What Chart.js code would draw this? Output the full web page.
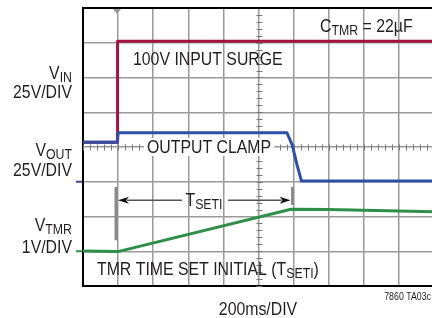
<!DOCTYPE html>
<html>
<head>
<meta charset="utf-8">
<script src="https://cdn.jsdelivr.net/npm/chart.js@4/dist/chart.umd.min.js"></script>
<style>
  html, body { margin: 0; padding: 0; background: #fff; overflow: hidden; }
  #wrap { width: 440px; height: 318px; }
</style>
</head>
<body>
<div id="wrap"><canvas id="grafico" width="440" height="318"></canvas></div>
<script>
// tempo em ms (200ms/DIV), nivel em divisoes da tela (0 = baixo, 8 = topo)
const vinTempo = [0, 194, 197, 2000];
const vinNivel = [4.14, 4.14, 7.04, 7.04];

const voutTempo = [0, 196, 200, 1162, 1192, 1220, 1245, 2000];
const voutNivel = [4.14, 4.14, 4.41, 4.41, 4.06, 3.48, 3.02, 3.02];

const tmrTempo = [0, 100, 199, 1185, 1400, 1800, 2000];
const tmrNivel = [1.01, 1.0, 0.99, 2.21, 2.2, 2.16, 2.14];

// marcas auxiliares
const gatilho = 194;
const tsetiInicio = 188;
const tsetiFim = 1194;
const refVout = 3;
const refTmr = 1;

const FONTE = '"Liberation Sans", Arial, sans-serif';
const ESTREITO = 0.88; // fonte condensada
const COR_TEXTO = "#231f20";

function pontos(xs, ys) {
  return xs.map((x, i) => ({ x: x, y: ys[i] }));
}

// texto com subscrito: partes = [[texto, ehSub], ...]
function textoSub(ctx, partes, x, y, alinhar, tam, tamSub) {
  let largura = 0;
  partes.forEach(p => {
    ctx.font = (p[1] ? tamSub : tam) + "px " + FONTE;
    largura += ctx.measureText(p[0]).width * ESTREITO;
  });
  let cx = x;
  if (alinhar === "right") cx = x - largura;
  if (alinhar === "center") cx = x - largura / 2;
  ctx.textAlign = "left";
  ctx.textBaseline = "alphabetic";
  partes.forEach(p => {
    ctx.font = (p[1] ? tamSub : tam) + "px " + FONTE;
    ctx.save();
    ctx.translate(cx, p[1] ? y + 3 : y);
    ctx.scale(ESTREITO, 1);
    ctx.fillText(p[0], 0, 0);
    ctx.restore();
    cx += ctx.measureText(p[0]).width * ESTREITO;
  });
  return largura;
}

function seta(ctx, x0, x1, y) {
  // linha de x0 ate a ponta em x1
  const dir = x1 > x0 ? 1 : -1;
  ctx.strokeStyle = "#555";
  ctx.lineWidth = 1.5;
  ctx.beginPath();
  ctx.moveTo(x0, y);
  ctx.lineTo(x1 - dir * 9, y);
  ctx.stroke();
  ctx.fillStyle = "#111";
  ctx.beginPath();
  ctx.moveTo(x1, y);
  ctx.lineTo(x1 - dir * 11, y - 3.5);
  ctx.lineTo(x1 - dir * 8, y);
  ctx.lineTo(x1 - dir * 11, y + 3.5);
  ctx.closePath();
  ctx.fill();
}

const fundo = {
  id: "fundo",
  beforeDatasetsDraw(chart) {
    const { ctx, scales: { x, y } } = chart;
    ctx.save();
    ctx.strokeStyle = "#777";
    ctx.lineWidth = 1;
    // marcas menores no eixo central horizontal
    const yc = Math.round(y.getPixelForValue(4)) + 0.5;
    for (let t = 0; t <= 2000; t += 40) {
      const px = Math.round(x.getPixelForValue(t)) + 0.5;
      ctx.beginPath();
      ctx.moveTo(px, yc - 3);
      ctx.lineTo(px, yc + 3);
      ctx.stroke();
    }
    // marcas menores no eixo central vertical
    const xc = Math.round(x.getPixelForValue(1000)) + 0.5;
    for (let v = 0; v <= 8; v += 0.2) {
      const py = Math.round(y.getPixelForValue(v)) + 0.5;
      ctx.beginPath();
      ctx.moveTo(xc - 3, py);
      ctx.lineTo(xc + 3, py);
      ctx.stroke();
    }
    // barras do TSETI
    ctx.strokeStyle = "#8a8a8a";
    ctx.lineWidth = 3;
    ctx.beginPath();
    ctx.moveTo(x.getPixelForValue(tsetiInicio), y.getPixelForValue(2.85));
    ctx.lineTo(x.getPixelForValue(tsetiInicio), y.getPixelForValue(1.32));
    ctx.moveTo(x.getPixelForValue(tsetiFim), y.getPixelForValue(2.85));
    ctx.lineTo(x.getPixelForValue(tsetiFim), y.getPixelForValue(2.33));
    ctx.stroke();
    ctx.restore();
  },
  afterDatasetsDraw(chart) {
    const { ctx, scales: { x, y } } = chart;
    ctx.save();
    // marcador do gatilho no topo
    const gx = x.getPixelForValue(gatilho);
    ctx.fillStyle = "#9a9a9a";
    ctx.beginPath();
    ctx.moveTo(gx - 4, 9);
    ctx.lineTo(gx + 4, 9);
    ctx.lineTo(gx, 14);
    ctx.closePath();
    ctx.fill();

    // marcas de referencia a esquerda
    ctx.lineWidth = 2;
    ctx.strokeStyle = "#4b3f8f";
    ctx.beginPath();
    ctx.moveTo(76, y.getPixelForValue(refVout));
    ctx.lineTo(82, y.getPixelForValue(refVout));
    ctx.stroke();
    ctx.strokeStyle = "#2f8f4a";
    ctx.beginPath();
    ctx.moveTo(76, y.getPixelForValue(refTmr));
    ctx.lineTo(82, y.getPixelForValue(refTmr));
    ctx.stroke();

    ctx.fillStyle = COR_TEXTO;
    // rotulos a esquerda
    textoSub(ctx, [["V", false], ["IN", true]], 72, 79, "right", 18, 14);
    textoSub(ctx, [["25V/DIV", false]], 72, 98, "right", 18, 14);
    textoSub(ctx, [["V", false], ["OUT", true]], 72, 156, "right", 18, 14);
    textoSub(ctx, [["25V/DIV", false]], 72, 176, "right", 18, 14);
    textoSub(ctx, [["V", false], ["TMR", true]], 72, 231, "right", 18, 14);
    textoSub(ctx, [["1V/DIV", false]], 72, 253, "right", 18, 14);

    // textos dentro da grade
    textoSub(ctx, [["100V INPUT SURGE", false]], 133, 65, "left", 18, 14);
    textoSub(ctx, [["C", false], ["TMR", true], [" = 22\u00b5F", false]], 320, 32, "left", 18, 14);
    textoSub(ctx, [["TMR TIME SET INITIAL (T", false], ["SETI", true], [")", false]], 97, 275, "left", 18, 14);

    ctx.font = "18px " + FONTE;
    const w = ctx.measureText("OUTPUT CLAMP").width * ESTREITO;
    ctx.fillStyle = "#fff";
    ctx.fillRect(144, 138, w + 6, 18);
    ctx.fillStyle = COR_TEXTO;
    textoSub(ctx, [["OUTPUT CLAMP", false]], 147, 153, "left", 18, 14);

    // seta TSETI
    const ya = y.getPixelForValue(2.47);
    seta(ctx, 182, x.getPixelForValue(tsetiInicio) + 2, ya);
    seta(ctx, 228, x.getPixelForValue(tsetiFim) - 2, ya);
    ctx.fillStyle = COR_TEXTO;
    textoSub(ctx, [["T", false], ["SETI", true]], 204, 206, "center", 18, 14);

    // rodape
    textoSub(ctx, [["200ms/DIV", false]], 258, 315, "center", 18, 14);
    textoSub(ctx, [["7860 TA03c", false]], 431, 300, "right", 10, 8);
    ctx.restore();
  }
};

function corGrade(ctx) {
  return ctx.tick && ctx.tick.value === 8 ? "#000" : "#9a9a9a";
}

new Chart(document.getElementById("grafico"), {
  type: "line",
  data: {
    datasets: [
      {
        label: "VOUT",
        data: pontos(voutTempo, voutNivel),
        borderColor: "#2f4fa5",
        borderWidth: 3,
      },
      {
        label: "VIN",
        data: pontos(vinTempo, vinNivel),
        borderColor: "#a3133d",
        borderWidth: 3,
      },
      {
        label: "VTMR",
        data: pontos(tmrTempo, tmrNivel),
        borderColor: "#2f8f4a",
        borderWidth: 3,
      },
    ],
  },
  options: {
    responsive: false,
    devicePixelRatio: 1,
    animation: false,
    elements: { point: { radius: 0 }, line: { tension: 0, borderCapStyle: "round", borderJoinStyle: "round" } },
    layout: { padding: { left: 83, top: 8, right: 6, bottom: 32 } },
    plugins: { legend: { display: false }, tooltip: { enabled: false } },
    scales: {
      x: {
        type: "linear",
        min: 0,
        max: 2000,
        ticks: { display: false, stepSize: 200 },
        grid: { color: "#9a9a9a", lineWidth: 1.5, drawTicks: false },
        border: { color: "#000", width: 2 },
      },
      y: {
        min: 0,
        max: 8,
        ticks: { display: false, stepSize: 1 },
        grid: { color: corGrade, lineWidth: (c) => (c.tick && c.tick.value === 8 ? 2 : 1.5), drawTicks: false },
        border: { color: "#000", width: 2 },
      },
    },
  },
  plugins: [fundo],
});
</script>
</body>
</html>
